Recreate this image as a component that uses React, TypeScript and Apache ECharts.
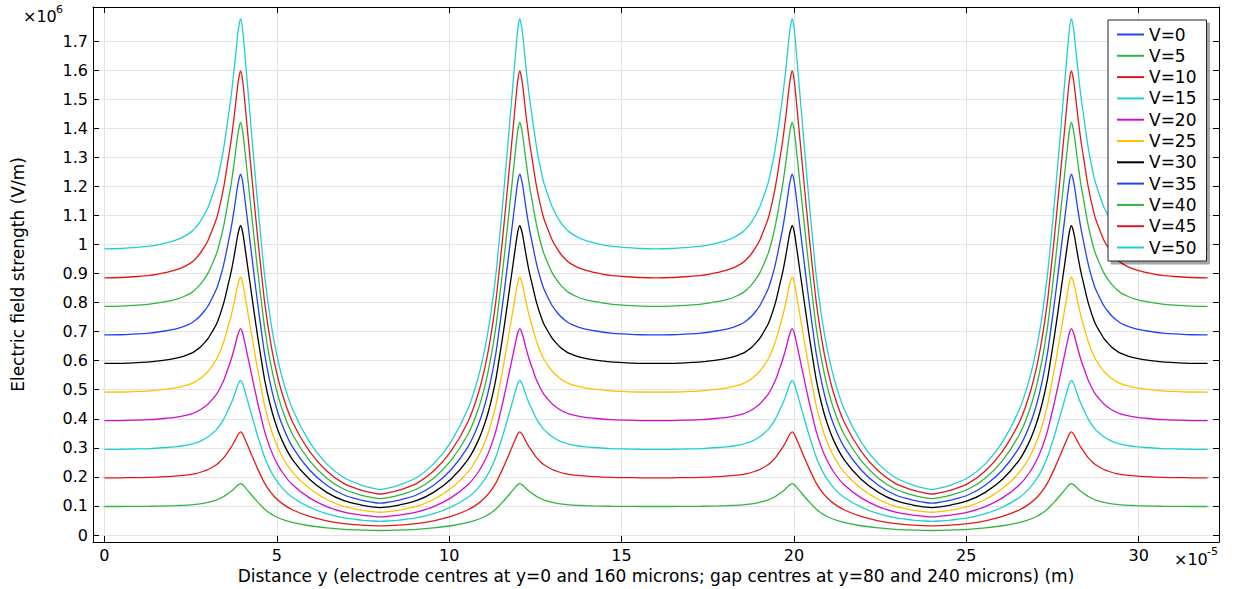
import React, { useEffect, useRef } from "react";
import * as echarts from "echarts";

// Tick labels
const xTicks = [0, 5, 10, 15, 20, 25, 30];
const yTicks = [0, 0.1, 0.2, 0.3, 0.4, 0.5, 0.6, 0.7, 0.8, 0.9, 1, 1.1, 1.2, 1.3, 1.4, 1.5, 1.6, 1.7];

// Series
const voltages = [0, 5, 10, 15, 20, 25, 30, 35, 40, 45, 50];
const colors = ["#2143f0", "#30b540", "#e01a1a", "#20d0d0", "#cc10cc", "#ffc000", "#000000", "#2143f0", "#30b540", "#e01a1a", "#20d0d0"];
// Peak value (x10^6 V/m) of each curve at the electrode edges (V=0 shows no curve)
const peakValues = [0, 0.177, 0.355, 0.532, 0.71, 0.887, 1.065, 1.242, 1.42, 1.597, 1.777];

// V=50 curve, from an electrode centre (x=0) to the gap centre (x=8); x in 1e-5 m, E in 1e6 V/m
const profileX = [
  0, 0.45, 0.84, 1.32, 1.81, 2.05, 2.29, 2.53, 2.65, 2.77, 2.9, 3.01, 3.15, 3.26, 3.35, 3.45, 3.52, 3.59, 3.67, 3.74, 3.8, 3.86, 3.9, 3.95,
  4.0, 4.05, 4.15, 4.25, 4.35, 4.45, 4.55, 4.65, 4.8, 4.95, 5.15, 5.45, 5.95, 6.45, 6.95, 7.45, 7.75, 8,
];
const profileV50 = [
  0.985, 0.986, 0.989, 0.994, 1.006, 1.014, 1.026, 1.044, 1.059, 1.077, 1.103, 1.129, 1.175, 1.215, 1.262, 1.324, 1.378, 1.438, 1.505, 1.576, 1.643, 1.714, 1.75, 1.777,
  1.75, 1.69, 1.55, 1.41, 1.27, 1.135, 1.01, 0.89, 0.755, 0.65, 0.545, 0.435, 0.32, 0.245, 0.197, 0.172, 0.162, 0.157,
];
// The pattern is mirrored about each gap centre and repeats every 16e-5 m (electrode centres at 0, 16, 32)
const periodLength = 16;
const xEnd = 32;

function buildPeriodicCurve(): [number, number][] {
  const pts: [number, number][] = [];
  for (let i = 0; i < profileX.length; i++) pts.push([profileX[i], profileV50[i]]);
  for (let i = profileX.length - 2; i >= 0; i--) pts.push([periodLength - profileX[i], profileV50[i]]);
  const full: [number, number][] = [...pts];
  for (let k = 1; k * periodLength < xEnd; k++) {
    for (let i = 1; i < pts.length; i++) full.push([pts[i][0] + k * periodLength, pts[i][1]]);
  }
  return full;
}

const FONT = "DejaVu Sans";

export default function App() {
  const ref = useRef<HTMLDivElement>(null);
  useEffect(() => {
    document.body.style.margin = "0";
    if (!ref.current) return;
    const chart = echarts.init(ref.current, undefined, { renderer: "svg" });
    const base = buildPeriodicCurve();
    const names = voltages.map((v) => `V=${v}`);
    const series = voltages.map((v, i) => ({
      name: names[i],
      type: "line",
      xAxisIndex: 0,
      yAxisIndex: 0,
      showSymbol: false,
      symbol: "none",
      smooth: 0.3,
      color: colors[i],
      lineStyle: { width: 1.3, color: colors[i] },
      data: peakValues[i] === 0 ? [] : base.map((p) => [p[0], (p[1] * peakValues[i]) / peakValues[10]]),
    }));
    const xMin = -0.33, xMax = 32.33, yMin = -0.024, yMax = 1.817;
    const axisLineStyle = { color: "#000", width: 1 };
    chart.setOption({
      animation: false,
      grid: { left: 93, right: 21, top: 7, bottom: 47, outerBoundsMode: "none" },
      xAxis: [
        {
          type: "value", position: "bottom", min: xMin, max: xMax,
          name: "Distance y (electrode centres at y=0 and 160 microns; gap centres at y=80 and 240 microns) (m)",
          nameLocation: "middle", nameGap: 23,
          nameTextStyle: { fontFamily: FONT, fontSize: 17, color: "#000" },
          axisLine: { show: true, onZero: false, lineStyle: axisLineStyle },
          axisTick: { show: true, inside: true, length: 6, customValues: xTicks, lineStyle: axisLineStyle },
          axisLabel: { customValues: xTicks, fontFamily: FONT, fontSize: 16, color: "#000", margin: 5, formatter: (v: number) => String(v) },
          splitLine: { show: true, lineStyle: { color: "#e4e4e4", width: 1 } },
        },
        {
          type: "value", position: "top", min: xMin, max: xMax,
          axisLine: { show: true, onZero: false, lineStyle: axisLineStyle },
          axisTick: { show: true, inside: true, length: 6, customValues: xTicks, lineStyle: axisLineStyle },
          axisLabel: { show: false },
          splitLine: { show: false },
        },
      ],
      yAxis: [
        {
          type: "value", position: "left", min: yMin, max: yMax,
          name: "Electric field strength (V/m)",
          nameLocation: "middle", nameGap: 67,
          nameTextStyle: { fontFamily: FONT, fontSize: 17, color: "#000" },
          axisLine: { show: true, onZero: false, lineStyle: axisLineStyle },
          axisTick: { show: true, inside: true, length: 6, customValues: yTicks, lineStyle: axisLineStyle },
          axisLabel: { customValues: yTicks, fontFamily: FONT, fontSize: 16, color: "#000", margin: 5, formatter: (v: number) => String(Math.round(v * 10) / 10) },
          splitLine: { show: true, lineStyle: { color: "#e4e4e4", width: 1 } },
        },
        {
          type: "value", position: "right", min: yMin, max: yMax,
          axisLine: { show: true, onZero: false, lineStyle: axisLineStyle },
          axisTick: { show: true, inside: true, length: 6, customValues: yTicks, lineStyle: axisLineStyle },
          axisLabel: { show: false },
          splitLine: { show: false },
        },
      ],
      legend: {
        orient: "vertical",
        left: 1108,
        top: 20,
        data: names,
        icon: "rect",
        itemWidth: 27,
        itemHeight: 2,
        itemGap: 0.3,
        itemStyle: { borderWidth: 0 },
        padding: [4, 10, 3, 9],
        textStyle: { fontFamily: FONT, fontSize: 17, color: "#000", lineHeight: 21 },
        backgroundColor: "#fff",
        borderColor: "#222",
        borderWidth: 1,
        shadowColor: "rgba(0,0,0,0.35)",
        shadowBlur: 0,
        shadowOffsetX: 3,
        shadowOffsetY: 3,
        selectedMode: false,
      },
      graphic: [
        { type: "text", left: 23, top: 8, style: { text: "×10", fontFamily: FONT, fontSize: 16, fill: "#000" } },
        { type: "text", left: 56, top: 4, style: { text: "6", fontFamily: FONT, fontSize: 11, fill: "#000" } },
        { type: "text", left: 1174, top: 551, style: { text: "×10", fontFamily: FONT, fontSize: 16, fill: "#000" } },
        { type: "text", left: 1207, top: 546, style: { text: "-5", fontFamily: FONT, fontSize: 11, fill: "#000" } },
      ],
      series,
    });
    return () => chart.dispose();
  }, []);
  return <div ref={ref} style={{ position: "absolute", left: 0, top: 0, width: 1240, height: 589 }} />;
}
